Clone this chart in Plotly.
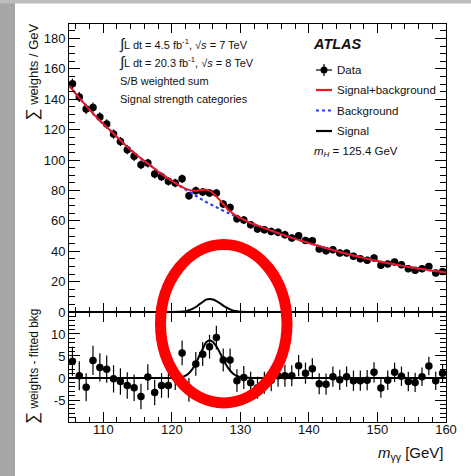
import plotly.graph_objects as go

# ---------------- data ----------------
mass = [105.5, 106.5, 107.5, 108.5, 109.5, 110.5, 111.5, 112.5, 113.5, 114.5,
        115.5, 116.5, 117.5, 118.5, 119.5, 120.5, 121.5, 122.5, 123.5, 124.5,
        125.5, 126.5, 127.5, 128.5, 129.5, 130.5, 131.5, 132.5, 133.5, 134.5,
        135.5, 136.5, 137.5, 138.5, 139.5, 140.5, 141.5, 142.5, 143.5, 144.5,
        145.5, 146.5, 147.5, 148.5, 149.5, 150.5, 151.5, 152.5, 153.5, 154.5,
        155.5, 156.5, 157.5, 158.5, 159.5]

weights = [150.2, 141.4, 133.5, 134.6, 128.3, 123.7, 117.1, 112.2, 106.8, 102.4,
           96.9, 98.0, 90.8, 89.0, 86.0, 84.9, 87.6, 76.5, 79.8, 78.9,
           78.3, 78.3, 71.0, 68.8, 61.4, 60.5, 57.4, 54.6, 54.1, 53.0,
           52.4, 50.9, 48.7, 50.2, 47.1, 46.9, 41.5, 40.3, 41.0, 38.8,
           38.8, 36.6, 35.1, 34.0, 35.5, 30.7, 31.6, 32.9, 31.1, 28.5,
           27.4, 28.5, 30.0, 25.7, 26.7]

residuals = [3.8, 0.5, -2.1, 4.0, 2.4, 2.0, -0.2, -0.8, -1.7, -2.2,
             -4.2, 0.2, -3.3, -1.7, -1.7, 0.1, 5.7, -2.7, 3.2, 5.4,
             7.1, 9.2, 4.1, 4.1, -0.6, 0.1, -1.1, -2.2, -1.1, -0.5,
             0.5, 0.5, 0.5, 2.8, 1.1, 2.1, -1.3, -1.4, 0.3, -0.4,
             0.3, -0.6, -0.6, -0.5, 1.3, -2.3, -0.5, 1.3, 0.4, -0.8,
             -1.0, 0.3, 2.7, -0.6, 1.1]

errors = [3.3, 3.3, 3.2, 3.3, 3.2, 3.1, 3.1, 3.0, 3.0, 3.0,
          2.9, 2.9, 2.9, 2.8, 2.8, 2.8, 2.8, 2.7, 2.7, 2.7,
          2.7, 2.7, 2.6, 2.6, 2.6, 2.6, 2.5, 2.5, 2.5, 2.5,
          2.5, 2.5, 2.4, 2.4, 2.4, 2.4, 2.4, 2.4, 2.3, 2.3,
          2.3, 2.3, 2.3, 2.3, 2.3, 2.2, 2.2, 2.2, 2.2, 2.2,
          2.2, 2.1, 2.1, 2.1, 2.1]

# fitted curves
curve_mass = [105, 106, 107, 108, 109, 110, 111, 112, 113, 114,
              115, 116, 117, 118, 119, 120, 121, 121.5, 122, 122.5,
              123, 123.5, 124, 124.5, 125, 125.5, 126, 126.5, 127, 127.5,
              128, 128.5, 129, 129.5, 130, 131, 132, 133, 134, 135,
              136, 137, 138, 139, 140, 141, 142, 143, 144, 145,
              146, 147, 148, 149, 150, 151, 152, 153, 154, 155,
              156, 157, 158, 159, 160]

background = [149.0, 143.6, 138.2, 133.1, 128.2, 123.8, 119.5, 115.2, 110.8, 106.6,
              102.8, 99.4, 96.0, 92.4, 89.2, 86.3, 83.4, 82.0, 80.6, 79.25,
              77.9, 76.5, 75.1, 73.7, 72.4, 71.2, 70.0, 68.9, 67.8, 66.7,
              65.7, 64.6, 63.6, 62.6, 61.7, 59.6, 57.7, 56.0, 54.4, 52.7,
              51.1, 49.5, 48.1, 46.8, 45.4, 44.0, 42.7, 41.4, 40.1, 38.9,
              37.7, 36.6, 35.5, 34.5, 33.5, 32.6, 31.7, 30.9, 30.1, 29.3,
              28.6, 27.9, 27.2, 26.6, 26.0]

signal = [0, 0, 0, 0, 0, 0, 0, 0, 0, 0,
          0, 0, 0, 0, 0, 0, 0.1, 0.25, 0.55, 1.1,
          2.0, 3.3, 5.0, 6.6, 8.1, 8.6, 8.2, 7.2, 5.8, 4.2,
          2.8, 1.7, 0.9, 0.45, 0.2, 0.05, 0, 0, 0, 0,
          0, 0, 0, 0, 0, 0, 0, 0, 0, 0,
          0, 0, 0, 0, 0, 0, 0, 0, 0, 0,
          0, 0, 0, 0, 0]

sig_plus_bkg = [b + s for b, s in zip(background, signal)]

x_ticks = [110, 120, 130, 140, 150, 160]

# ---------------- layout geometry ----------------
W, H = 471, 476
ML, MR, MT, MB = 69, 25, 24, 54
PW, PH = W - ML - MR, H - MT - MB
LOWER_TOP = 0.2764  # fraction of plot height used by the residual panel

def px(x):
    return (x - ML) / PW

def py(y):
    return (H - MB - y) / PH

FONT = "Liberation Sans, Arial, Helvetica, sans-serif"
TXT = "#111111"
RED = "#f0141e"
BLUE = "#2a3cff"

fig = go.Figure()

# ---------------- upper panel: data first, fit curves drawn over it ----------------
fig.add_trace(go.Scatter(
    x=mass, y=weights, mode="markers",
    marker=dict(color="black", size=7.5),
    error_y=dict(type="data", array=errors, color="black", thickness=1.2, width=0),
    xaxis="x2", yaxis="y2", showlegend=False))
fig.add_trace(go.Scatter(
    x=curve_mass, y=signal, mode="lines", line=dict(color="black", width=2, shape="spline"),
    xaxis="x2", yaxis="y2", showlegend=False, hoverinfo="skip"))
fig.add_trace(go.Scatter(
    x=curve_mass, y=background, mode="lines",
    line=dict(color=BLUE, width=2.2, dash="dot", shape="spline"),
    xaxis="x2", yaxis="y2", showlegend=False))
fig.add_trace(go.Scatter(
    x=curve_mass, y=sig_plus_bkg, mode="lines",
    line=dict(color=RED, width=2, shape="spline"),
    xaxis="x2", yaxis="y2", showlegend=False))

# ---------------- lower panel ----------------
fig.add_trace(go.Scatter(
    x=mass, y=residuals, mode="markers",
    marker=dict(color="black", size=7.5),
    error_y=dict(type="data", array=errors, color="black", thickness=1.2, width=0),
    xaxis="x", yaxis="y", showlegend=False))
fig.add_trace(go.Scatter(
    x=curve_mass, y=signal, mode="lines", line=dict(color="black", width=2, shape="spline"),
    xaxis="x", yaxis="y", showlegend=False))

axis_common = dict(showline=True, linecolor="black", linewidth=1, mirror="ticks",
                   ticks="inside", tickcolor="black", showgrid=False, zeroline=False,
                   tickfont=dict(family=FONT, size=13, color=TXT))

fig.update_layout(
    width=W, height=H,
    margin=dict(l=ML, r=MR, t=MT, b=MB),
    paper_bgcolor="white", plot_bgcolor="white",
    xaxis=dict(domain=[0, 1], anchor="y", range=[105, 160],
               tickvals=x_ticks, ticklen=10, tickwidth=1, ticklabelstandoff=-5,
               minor=dict(ticks="inside", ticklen=5, dtick=2, tick0=0, tickcolor="black"),
               **axis_common),
    yaxis=dict(domain=[0, LOWER_TOP], anchor="x", range=[-10, 15],
               tickvals=[-5, 0, 5, 10], ticktext=["-5", "0", "5", "10"], ticklen=11,
               minor=dict(ticks="inside", ticklen=6, dtick=1, tick0=0, tickcolor="black"),
               **axis_common),
    xaxis2=dict(domain=[0, 1], anchor="y2", range=[105, 160], matches="x",
                tickvals=x_ticks, ticklen=9, showticklabels=False,
                minor=dict(ticks="inside", ticklen=5, dtick=2, tick0=0, tickcolor="black"),
                **axis_common),
    yaxis2=dict(domain=[LOWER_TOP, 1], anchor="x2", range=[0, 189.5],
                dtick=20, tick0=0, ticklen=11,
                minor=dict(ticks="inside", ticklen=6, dtick=5, tick0=0, tickcolor="black"),
                **axis_common),
    showlegend=False,
)

shapes = []
# grey page edges
shapes.append(dict(type="rect", xref="paper", yref="paper", x0=px(0), x1=px(15), y0=py(H), y1=py(0),
                   fillcolor="#a6a6a6", line=dict(width=0), layer="below"))
shapes.append(dict(type="rect", xref="paper", yref="paper", x0=px(0), x1=px(W), y0=py(3.5), y1=py(0),
                   fillcolor="#bdbdbd", line=dict(width=0), layer="below"))

# legend samples
LX0, LX1 = 316, 332
shapes.append(dict(type="line", xref="paper", yref="paper", x0=px(LX0), x1=px(LX1), y0=py(70), y1=py(70),
                   line=dict(color="black", width=1.2)))
shapes.append(dict(type="line", xref="paper", yref="paper", x0=px(324), x1=px(324), y0=py(64), y1=py(76),
                   line=dict(color="black", width=1.2)))
shapes.append(dict(type="circle", xref="paper", yref="paper", x0=px(320.5), x1=px(327.5), y0=py(73.5), y1=py(66.5),
                   fillcolor="black", line=dict(color="black", width=0)))
shapes.append(dict(type="line", xref="paper", yref="paper", x0=px(LX0), x1=px(LX1), y0=py(90), y1=py(90),
                   line=dict(color=RED, width=2.2)))
shapes.append(dict(type="line", xref="paper", yref="paper", x0=px(LX0), x1=px(LX1), y0=py(110.5), y1=py(110.5),
                   line=dict(color=BLUE, width=2.2, dash="dot")))
shapes.append(dict(type="line", xref="paper", yref="paper", x0=px(LX0), x1=px(LX1), y0=py(131), y1=py(131),
                   line=dict(color="black", width=2.2)))

# red highlight ring around the excess
shapes.append(dict(type="circle", xref="paper", yref="paper",
                   x0=px(160.5), x1=px(287), y0=py(403), y1=py(244.5),
                   line=dict(color="#ff0000", width=11), layer="above"))
fig.update_layout(shapes=shapes)

ann = []
def text(x, y, s, size=11, xanchor="left", yanchor="middle", angle=0):
    ann.append(dict(x=px(x), y=py(y), xref="paper", yref="paper", text=s, showarrow=False,
                    xanchor=xanchor, yanchor=yanchor, textangle=angle,
                    font=dict(family=FONT, size=size, color=TXT)))

INTEGRAL = "<span style='font-size:15px'>\u222b</span>"
text(117, 44, INTEGRAL + "L dt = 4.5 fb<sup>-1</sup>, \u221a<i>s</i> = 7 TeV", size=11)
text(117, 62, INTEGRAL + "L dt = 20.3 fb<sup>-1</sup>, \u221a<i>s</i> = 8 TeV", size=11)
text(118, 81, "S/B weighted sum", size=11)
text(118, 99, "Signal strength categories", size=11)
text(311, 44, "<b><i>ATLAS</i></b>", size=14.5)
text(335, 70, "Data", size=11.5)
text(335, 90, "Signal+background", size=11.5)
text(335, 110.5, "Background", size=11.5)
text(335, 131, "Signal", size=11.5)
text(312, 152, "<i>m</i><sub><i>H</i></sub> = 125.4 GeV", size=11.5)
text(446, 453, "<i>m</i><sub>\u03b3\u03b3</sub> [GeV]", size=15, xanchor="right")
text(32, 22, "<span style='font-size:17px'>\u2211</span> weights / GeV", size=13,
     xanchor="center", yanchor="top", angle=-90)
text(32, 366, "<span style='font-size:17px'>\u2211</span> weights - fitted bkg", size=12,
     xanchor="center", yanchor="middle", angle=-90)
fig.update_layout(annotations=ann)

fig.write_html("out.html")
